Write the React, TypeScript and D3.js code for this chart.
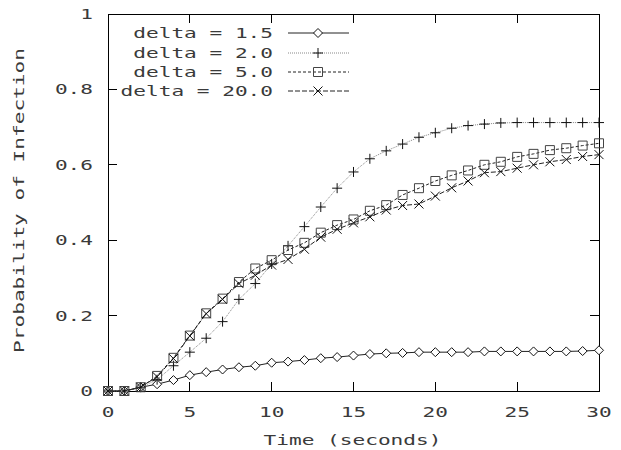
import React, { useEffect, useRef } from 'react'
import * as d3 from 'd3'

const times = [0, 1, 2, 3, 4, 5, 6, 7, 8, 9, 10, 11, 12, 13, 14, 15, 16, 17, 18, 19, 20, 21, 22, 23, 24, 25, 26, 27, 28, 29, 30]

const delta15 = [0, 0, 0.01, 0.018, 0.029, 0.042, 0.05, 0.057, 0.063, 0.067, 0.075, 0.078, 0.082, 0.087, 0.09, 0.094, 0.098, 0.1, 0.101, 0.103, 0.103, 0.103, 0.103, 0.105, 0.105, 0.105, 0.105, 0.105, 0.105, 0.106, 0.108]
const delta20 = [0, 0, 0.01, 0.03, 0.067, 0.103, 0.14, 0.184, 0.243, 0.285, 0.337, 0.385, 0.436, 0.488, 0.538, 0.581, 0.616, 0.637, 0.655, 0.673, 0.685, 0.697, 0.704, 0.708, 0.711, 0.712, 0.712, 0.712, 0.712, 0.712, 0.712]
const delta50 = [0, 0, 0.01, 0.04, 0.088, 0.147, 0.206, 0.245, 0.289, 0.325, 0.347, 0.374, 0.393, 0.42, 0.44, 0.455, 0.478, 0.493, 0.52, 0.538, 0.557, 0.572, 0.585, 0.6, 0.608, 0.621, 0.629, 0.639, 0.644, 0.651, 0.657]
const delta200 = [0, 0, 0.01, 0.038, 0.086, 0.146, 0.205, 0.243, 0.285, 0.307, 0.334, 0.349, 0.376, 0.408, 0.429, 0.446, 0.462, 0.48, 0.492, 0.496, 0.517, 0.539, 0.557, 0.579, 0.582, 0.591, 0.6, 0.608, 0.614, 0.622, 0.627]

const seriesNames = ['delta = 1.5', 'delta = 2.0', 'delta = 5.0', 'delta = 20.0']
const xTicks = [0, 5, 10, 15, 20, 25, 30]
const yTicks = [0, 0.2, 0.4, 0.6, 0.8, 1]
const yTickLabels = ['0', '0.2', '0.4', '0.6', '0.8', '1']

const width = 621, height = 450
const margin = { top: 14, right: 22, bottom: 59, left: 108 }
const charW = 12.7
const font = '"DejaVu Sans Mono", monospace'

export default function App() {
  const ref = useRef<SVGSVGElement>(null)

  useEffect(() => {
    document.body.style.margin = '0'
    const svg = d3.select(ref.current)
    svg.selectAll('*').remove()

    const x = d3.scaleLinear().domain([0, 30]).range([margin.left, width - margin.right])
    const y = d3.scaleLinear().domain([0, 1]).range([height - margin.bottom, margin.top])
    const x0 = x(0), x1 = x(30), y0 = y(0), y1 = y(1)

    // gnuplot-like wide text: stretch each string to a fixed char pitch
    const txt = (g: any, s: string, px: number, py: number, anchor: string) => {
      const w = s.length * charW
      const left = anchor === 'end' ? px - w : anchor === 'middle' ? px - w / 2 : px
      return g.append('text')
        .attr('x', left).attr('y', py)
        .attr('textLength', w).attr('lengthAdjust', 'spacingAndGlyphs')
        .attr('font-family', font).attr('font-size', 14)
        .attr('fill', '#3a3a3a')
        .text(s)
    }

    // ticks, mirrored on all sides
    const tl = 9
    const axes = svg.append('g').attr('stroke', '#000').attr('stroke-width', 1).attr('shape-rendering', 'crispEdges')
    xTicks.forEach(t => {
      axes.append('line').attr('x1', x(t)).attr('x2', x(t)).attr('y1', y0).attr('y2', y0 - tl)
      axes.append('line').attr('x1', x(t)).attr('x2', x(t)).attr('y1', y1).attr('y2', y1 + tl)
    })
    yTicks.forEach(t => {
      axes.append('line').attr('x1', x0).attr('x2', x0 + tl).attr('y1', y(t)).attr('y2', y(t))
      axes.append('line').attr('x1', x1).attr('x2', x1 - tl).attr('y1', y(t)).attr('y2', y(t))
    })
    axes.append('rect').attr('x', x0).attr('y', y1).attr('width', x1 - x0).attr('height', y0 - y1).attr('fill', 'none')

    const labels = svg.append('g')
    xTicks.forEach(t => txt(labels, String(t), x(t), y0 + 26, 'middle'))
    yTicks.forEach((t, i) => txt(labels, yTickLabels[i], x0 - 15, y(t) + 5, 'end'))
    txt(labels, 'Time (seconds)', (x0 + x1) / 2 - 1, 445, 'middle')
    const yl = labels.append('g').attr('transform', `translate(24,${(y0 + y1) / 2 - 2}) rotate(-90)`)
    txt(yl, 'Probability of Infection', 0, 0, 'middle')

    const all = [delta15, delta20, delta50, delta200]
    const styles = [
      { stroke: '#222', dash: null },
      { stroke: '#888', dash: '1,1' },
      { stroke: '#222', dash: '3,2' },
      { stroke: '#222', dash: '5,2' },
    ]

    const marker = (g: any, kind: number, cx: number, cy: number) => {
      const p = d3.path()
      if (kind === 0) {
        const r = 4.5
        p.moveTo(cx, cy - r); p.lineTo(cx + r, cy); p.lineTo(cx, cy + r); p.lineTo(cx - r, cy); p.closePath()
      } else if (kind === 1) {
        const r = 5
        p.moveTo(cx - r, cy); p.lineTo(cx + r, cy); p.moveTo(cx, cy - r); p.lineTo(cx, cy + r)
      } else if (kind === 2) {
        p.rect(cx - 4.5, cy - 4.5, 9, 9)
      } else {
        const r = 4.5
        p.moveTo(cx - r, cy - r); p.lineTo(cx + r, cy + r); p.moveTo(cx - r, cy + r); p.lineTo(cx + r, cy - r)
      }
      g.append('path').attr('d', p.toString())
        .attr('fill', kind === 0 ? '#fff' : 'none')
        .attr('stroke', kind === 2 ? '#444' : '#111').attr('stroke-width', 1)
    }

    const line = d3.line<number>().x((_, i) => x(times[i])).y(d => y(d))

    all.forEach((vals, k) => {
      const g = svg.append('g')
      const path = g.append('path').attr('d', line(vals)).attr('fill', 'none')
        .attr('stroke', styles[k].stroke).attr('stroke-width', 1)
      if (styles[k].dash) path.attr('stroke-dasharray', styles[k].dash)
      vals.forEach((v, i) => marker(g, k, x(times[i]), y(v)))
    })

    // legend
    const legendY = [33, 53, 72, 91]
    const lg = svg.append('g')
    seriesNames.forEach((name, k) => {
      const ly = legendY[k]
      txt(lg, name, 273, ly + 5, 'end')
      const l = lg.append('line').attr('x1', 288).attr('x2', 349).attr('y1', ly).attr('y2', ly)
        .attr('stroke', styles[k].stroke).attr('stroke-width', 1)
      if (styles[k].dash) l.attr('stroke-dasharray', styles[k].dash)
      marker(lg, k, 318, ly)
    })
  }, [])

  return <svg ref={ref} width={width} height={height} style={{ display: 'block', background: '#fff' }} />
}
